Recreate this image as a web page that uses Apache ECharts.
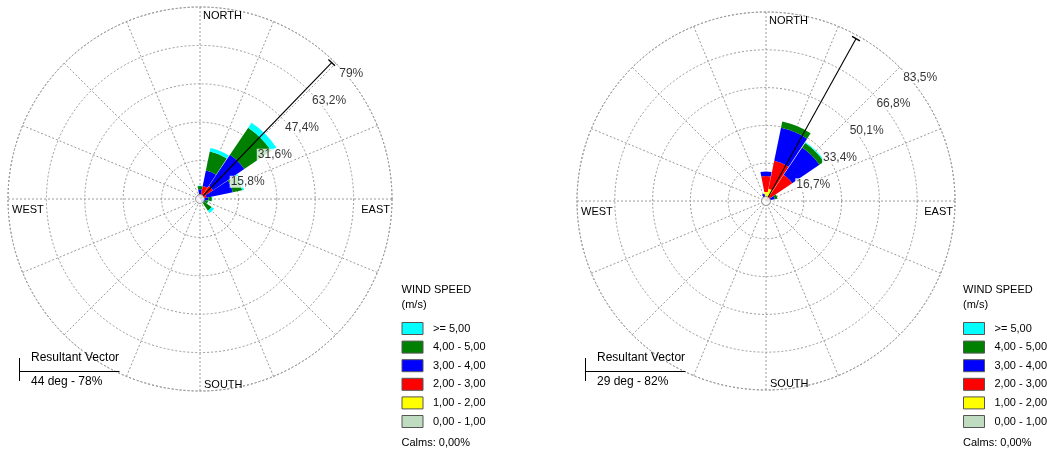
<!DOCTYPE html>
<html>
<head>
<meta charset="utf-8">
<script src="https://cdn.jsdelivr.net/npm/echarts@6/dist/echarts.min.js"></script>
<style>
  html, body { margin: 0; padding: 0; background: #ffffff; }
  #chart { width: 1047px; height: 451px; }
</style>
</head>
<body>
<div id="chart"></div>
<script>
// Sixteen compass sectors, clockwise from north
const directions = ['N', 'NNE', 'NE', 'ENE', 'E', 'ESE', 'SE', 'SSE', 'S', 'SSW', 'SW', 'WSW', 'W', 'WNW', 'NW', 'NNW'];

// Wind speed classes (m/s), lowest first, and their fill colours
const speedClasses = ['0,00 - 1,00', '1,00 - 2,00', '2,00 - 3,00', '3,00 - 4,00', '4,00 - 5,00', '>= 5,00'];
const speedColors = ['#c0dcc0', '#ffff00', '#ff0000', '#0000ff', '#008000', '#00ffff'];

// Left rose: frequency (%) per direction for each speed class
const leftS01 = [0, 0, 0, 0, 0, 0, 0, 0, 0, 0, 0, 0, 0, 0, 0, 0];
const leftS12 = [0.3, 0.4, 0.4, 0.3, 0, 0, 0, 0, 0, 0, 0, 0, 0, 0, 0, 0];
const leftS23 = [1.5, 5.1, 6.1, 2.5, 0.8, 0.4, 0.3, 0.1, 0, 0, 0, 0, 0, 0, 0, 0.6];
const leftS34 = [2.2, 6.5, 15.5, 11.0, 2.6, 1.8, 1.7, 0.3, 0, 0, 0, 0, 0, 0, 0, 1.0];
const leftS45 = [1.3, 8.0, 13.4, 3.9, 1.5, 1.2, 3.8, 0, 0, 0, 0, 0, 0, 0, 0, 0.3];
const leftS5p = [0.2, 1.4, 2.5, 0.8, 0.2, 0.2, 1.2, 0, 0, 0, 0, 0, 0, 0, 0, 0];

// Right rose: frequency (%) per direction for each speed class
const rightS01 = [0, 0, 0, 0, 0, 0, 0, 0, 0, 0, 0, 0, 0, 0, 0, 0];
const rightS12 = [4.0, 5.5, 1.5, 0.5, 0, 0, 0, 0, 0, 0, 0, 0, 0, 0, 0, 0.3];
const rightS23 = [7.0, 12.6, 12.5, 1.5, 0.3, 0, 0, 0, 0, 0, 0, 0, 0, 0, 0, 1.5];
const rightS34 = [2.0, 14.9, 14.5, 2.0, 0.8, 0.3, 0, 0, 0, 0, 0, 0, 0, 0, 0, 1.5];
const rightS45 = [0, 2.8, 2.4, 1.2, 0.3, 0, 0, 0, 0, 0, 0, 0, 0, 0, 0, 0];
const rightS5p = [0, 0, 0.4, 0, 0, 0, 0, 0, 0, 0, 0, 0, 0, 0, 0, 0];

// Ring values (%) for each rose
const leftRings = [15.8, 31.6, 47.4, 63.2, 79];
const rightRings = [16.7, 33.4, 50.1, 66.8, 83.5];

// Resultant vector: [direction in degrees, magnitude in %]
const leftVector = [44, 78];
const rightVector = [29, 82];

const calmsText = 'Calms: 0,00%';

const FONT = '"Liberation Sans", Arial, sans-serif';
const GRID_LINE = { color: '#9a9a9a', width: 1, type: [2, 2] };

const fmtPct = v => String(v).replace('.', ',') + '%';

function buildRose(idx, geo, classes, rings, vector, legendX) {
  const g = idx * 2;      // polar used for rings, spokes and overlays
  const b = idx * 2 + 1;  // polar used for the stacked petals
  const out = { polar: [], angleAxis: [], radiusAxis: [], series: [], graphic: [] };
  const hidden = { show: false };

  out.polar.push({ center: [geo.cx, geo.cy], radius: geo.r });
  out.polar.push({ center: [geo.cx, geo.cy], radius: geo.r });

  out.angleAxis.push({
    polarIndex: g, type: 'value', min: 0, max: 360, interval: 22.5,
    startAngle: 90, clockwise: true,
    axisLine: { show: true, lineStyle: GRID_LINE }, axisTick: hidden, axisLabel: hidden,
    splitLine: { show: true, lineStyle: GRID_LINE }, silent: true
  });
  out.radiusAxis.push({
    polarIndex: g, type: 'value', min: 0, max: rings[rings.length - 1], interval: rings[0],
    axisLine: hidden, axisTick: hidden, axisLabel: hidden,
    splitLine: { show: true, lineStyle: GRID_LINE }, silent: true
  });
  out.angleAxis.push({
    polarIndex: b, type: 'category', data: directions, boundaryGap: true,
    startAngle: 90 + 180 / directions.length, clockwise: true,
    axisLine: hidden, axisTick: hidden, axisLabel: hidden, splitLine: hidden, silent: true
  });
  out.radiusAxis.push({
    polarIndex: b, type: 'value', min: 0, max: rings[rings.length - 1],
    axisLine: hidden, axisTick: hidden, axisLabel: hidden, splitLine: hidden, silent: true
  });

  // stacked petals, one series per speed class
  classes.forEach((values, k) => {
    out.series.push({
      type: 'bar', coordinateSystem: 'polar', polarIndex: b,
      name: speedClasses[k], stack: 'rose' + idx, data: values,
      barCategoryGap: '3%', itemStyle: { color: speedColors[k] },
      silent: true, z: 3
    });
  });

  // resultant vector with a cross bar at its tip
  out.series.push({
    type: 'line', coordinateSystem: 'polar', polarIndex: g, silent: true, z: 5,
    data: [
      { value: [0, vector[0]], symbol: 'none' },
      { value: [vector[1], vector[0]], symbol: 'rect', symbolSize: [9, 1.4], symbolRotate: -vector[0] }
    ],
    lineStyle: { color: '#000', width: 1.1 }, itemStyle: { color: '#000' }
  });

  // ring value labels
  out.series.push({
    type: 'scatter', coordinateSystem: 'polar', polarIndex: g, silent: true, z: 6,
    symbolSize: 1, itemStyle: { color: 'rgba(0,0,0,0)' },
    data: rings.map(r => [r, 45]),
    label: {
      show: true, position: 'right', distance: 2, offset: [0, 10],
      formatter: p => fmtPct(p.value[0]),
      color: '#000', fontSize: 12, fontFamily: FONT,
      backgroundColor: '#fff', padding: [0, 1]
    }
  });

  // centre circle
  out.series.push({
    type: 'scatter', coordinateSystem: 'polar', polarIndex: g, silent: true, z: 7,
    data: [[0, 0]], symbol: 'circle', symbolSize: 9,
    itemStyle: { color: '#fff', borderColor: '#808080', borderWidth: 1 }
  });

  // compass labels
  const txt = (text, x, y, align, size) => ({
    type: 'text', x, y, silent: true, z: 10,
    style: { text, fill: '#000', font: size + 'px ' + FONT, align, verticalAlign: 'middle' }
  });
  out.graphic.push(txt('NORTH', geo.cx + 3, geo.cy - geo.r + 9, 'left', 11));
  out.graphic.push(txt('SOUTH', geo.cx + 4, geo.cy + geo.r - 6, 'left', 11));
  out.graphic.push(txt('WEST', geo.cx - geo.r + 4, geo.cy + 11, 'left', 11));
  out.graphic.push(txt('EAST', geo.cx + geo.r - 2, geo.cy + 11, 'right', 11));

  // resultant vector caption
  const vx = geo.cx - 180.5;
  out.graphic.push({ type: 'line', silent: true, z: 10, shape: { x1: vx, y1: 358, x2: vx, y2: 381 }, style: { stroke: '#000', lineWidth: 1 } });
  out.graphic.push({ type: 'line', silent: true, z: 10, shape: { x1: vx, y1: 371.5, x2: vx + 100, y2: 371.5 }, style: { stroke: '#000', lineWidth: 1 } });
  out.graphic.push(txt('Resultant Vector', vx + 11.5, 357.5, 'left', 12));
  out.graphic.push(txt(vector[0] + ' deg - ' + vector[1] + '%', vx + 11.5, 382, 'left', 12));

  // speed legend, highest class on top
  out.graphic.push(txt('WIND SPEED', legendX, 290, 'left', 11));
  out.graphic.push(txt('(m/s)', legendX, 305, 'left', 11));
  for (let i = 0; i < speedClasses.length; i++) {
    const k = speedClasses.length - 1 - i;
    const y = 322 + i * 18.6;
    out.graphic.push({
      type: 'rect', silent: true, z: 10,
      shape: { x: legendX + 0.5, y: y + 0.5, width: 21, height: 12 },
      style: { fill: speedColors[k], stroke: '#555', lineWidth: 1 }
    });
    out.graphic.push(txt(speedClasses[k], legendX + 31.5, y + 6.5, 'left', 11));
  }
  out.graphic.push(txt(calmsText, legendX, 442.5, 'left', 11));

  return out;
}

const left = buildRose(0, { cx: 200, cy: 199, r: 192 },
  [leftS01, leftS12, leftS23, leftS34, leftS45, leftS5p], leftRings, leftVector, 401.5);
const right = buildRose(1, { cx: 766, cy: 201, r: 189 },
  [rightS01, rightS12, rightS23, rightS34, rightS45, rightS5p], rightRings, rightVector, 963);

const chart = echarts.init(document.getElementById('chart'), null, { renderer: 'canvas' });
chart.setOption({
  animation: false,
  backgroundColor: '#ffffff',
  polar: left.polar.concat(right.polar),
  angleAxis: left.angleAxis.concat(right.angleAxis),
  radiusAxis: left.radiusAxis.concat(right.radiusAxis),
  series: left.series.concat(right.series),
  graphic: { elements: left.graphic.concat(right.graphic) }
});
</script>
</body>
</html>
